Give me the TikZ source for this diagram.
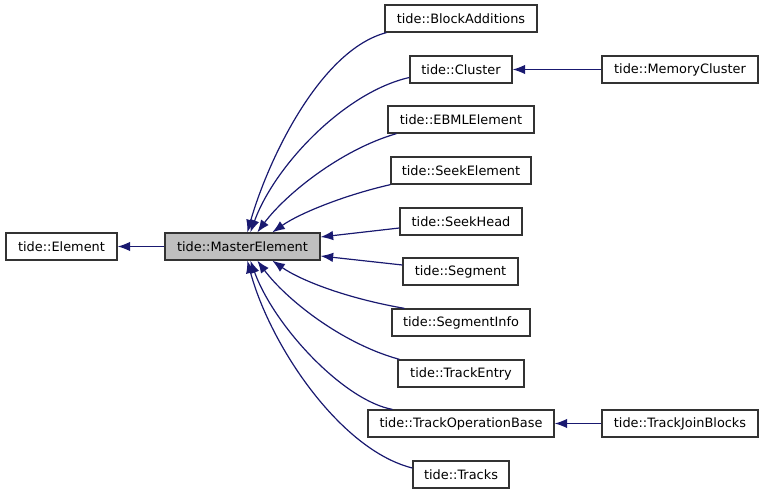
\documentclass[tikz,border=0pt]{standalone}
\usepackage{fontspec}
\setmainfont{DejaVu Sans}
\usetikzlibrary{arrows.meta,calc}
\definecolor{edgeblue}{HTML}{191970}
\definecolor{boxgray}{HTML}{BFBFBF}
\begin{document}
\begin{tikzpicture}[x=1bp,y=-1bp,
  cls/.style={draw=black!80,line width=1.3bp,fill=white,minimum height=27bp,inner sep=0pt,
    font=\fontsize{12.9bp}{15bp}\selectfont},
  inh/.style={draw=edgeblue,line width=1.2bp,-{Latex[length=12.5bp,width=9.5bp]}}]
\useasboundingbox (0,0) rectangle (763,493);
\node[cls,minimum width=111bp] (el) at (61.5,246.5) {tide::Element};
\node[cls,minimum width=155bp,fill=boxgray] (me) at (242.5,246.5) {tide::MasterElement};
\node[cls,minimum width=152bp] (ba) at (461,18.5) {tide::BlockAdditions};
\node[cls,minimum width=102bp] (cl) at (461,69.5) {tide::Cluster};
\node[cls,minimum width=146bp] (eb) at (461,119.5) {tide::EBMLElement};
\node[cls,minimum width=140bp] (se) at (461,170.5) {tide::SeekElement};
\node[cls,minimum width=122bp] (sh) at (461,221.5) {tide::SeekHead};
\node[cls,minimum width=115bp] (sg) at (460.5,271.5) {tide::Segment};
\node[cls,minimum width=138bp] (si) at (461,322.5) {tide::SegmentInfo};
\node[cls,minimum width=126bp] (te) at (461,373.5) {tide::TrackEntry};
\node[cls,minimum width=186bp] (tob) at (461,423.5) {tide::TrackOperationBase};
\node[cls,minimum width=96bp] (tr) at (461,474.5) {tide::Tracks};
\node[cls,minimum width=156bp] (mc) at (680,69.5) {tide::MemoryCluster};
\node[cls,minimum width=156bp] (tjb) at (680,423.5) {tide::TrackJoinBlocks};

\draw[inh] (me.west) -- (el.east);
\draw[inh] (mc.west) -- (cl.east);
\draw[inh] (tjb.west) -- (tob.east);

\draw[inh] ($(ba.south west)+(2,0)$) .. controls (320,50) and (268,160) .. ($(me.north west)+(83,0)$);
\draw[inh] ($(cl.west)+(0,8)$) .. controls (345,92) and (275,165) .. ($(me.north west)+(86,0)$);
\draw[inh] ($(eb.south west)+(9,0)$) .. controls (340,150) and (285,195) .. ($(me.north west)+(93,0)$);
\draw[inh] ($(se.south west)+(0,0)$) .. controls (345,195) and (300,213) .. ($(me.north west)+(108,0)$);
\draw[inh] ($(sh.west)+(0,6.5)$) -- ($(me.east)+(0,-9.5)$);
\draw[inh] ($(sg.west)+(0,-6.5)$) -- ($(me.east)+(0,9.5)$);
\draw[inh] ($(si.north west)+(13,0)$) .. controls (345,298) and (300,280) .. ($(me.south west)+(108,0)$);
\draw[inh] ($(te.north west)+(2,0)$) .. controls (340,343) and (285,298) .. ($(me.south west)+(93,0)$);
\draw[inh] ($(tob.north west)+(25,0)$) .. controls (345,401) and (275,328) .. ($(me.south west)+(86,0)$);
\draw[inh] ($(tr.west)+(0,-6.5)$) .. controls (340,450) and (270,345) .. ($(me.south west)+(83,0)$);
\end{tikzpicture}
\end{document}
